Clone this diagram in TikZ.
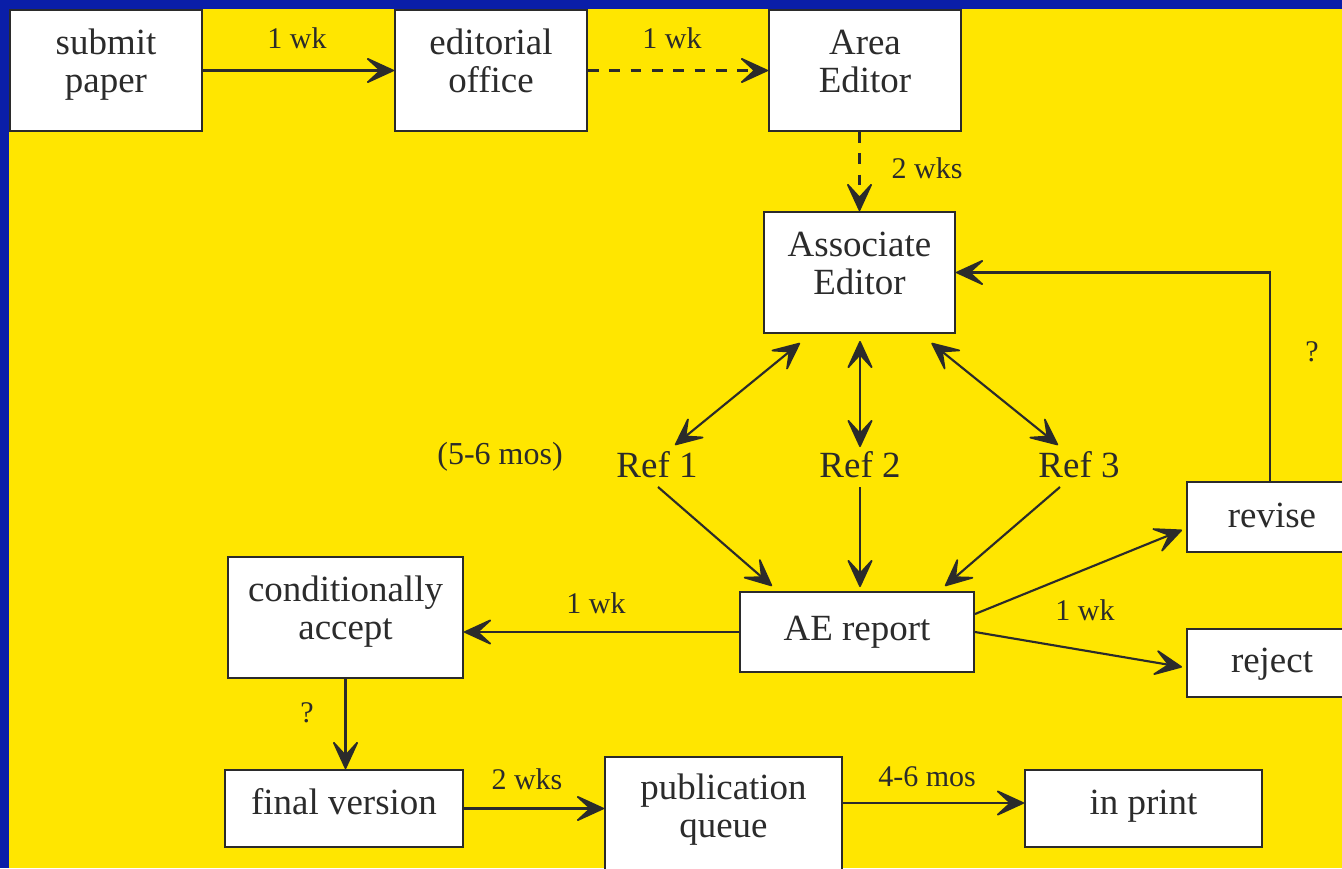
\documentclass[tikz,border=0pt]{standalone}
\usepackage{fontspec}
\setmainfont{Liberation Serif}
\usetikzlibrary{arrows.meta,calc}
\definecolor{bgyellow}{HTML}{FFE600}
\definecolor{bgblue}{HTML}{0A1EA8}
\definecolor{ink}{HTML}{2B2B2B}
\newdimen\pxu \pxu=0.75pt
\begin{document}
\begin{tikzpicture}[x=0.75pt,y=-0.75pt,
  >={Stealth[length=24pt,width=22pt,inset=12pt,line width=1.3pt,round]},
  box/.style={draw=ink, line width=1.5pt, fill=white, inner sep=0pt, align=center,
    font=\fontsize{27.7}{28.5}\selectfont, text=ink},
  one/.style={box, text height=18pt, text depth=9pt},
  two/.style={box, text height=41.5pt, text depth=8pt},
  reflab/.style={inner sep=2pt, font=\fontsize{27.7}{28.5}\selectfont, text=ink},
  lab/.style={font=\fontsize{22.5}{24}\selectfont, text=ink, inner sep=0pt},
  arr/.style={draw=ink, line width=1.6pt, ->},
  darr/.style={draw=ink, line width=1.6pt, <->},
  dsh/.style={dash pattern=on 8pt off 8pt}]
\useasboundingbox (0,0) rectangle (1342,868);
\fill[bgblue] (0,0) rectangle (1342,868);
\fill[bgyellow] (9,9) rectangle (1342,868);

\node[two, minimum width=192\pxu, minimum height=121\pxu] (sub) at (106,70.5) {submit\\paper};
\node[two, minimum width=192\pxu, minimum height=121\pxu] (edi) at (491,70.5) {editorial\\office};
\node[two, minimum width=192\pxu, minimum height=121\pxu] (area) at (865,70.5) {Area\\Editor};
\node[two, minimum width=191\pxu, minimum height=121\pxu] (assoc) at (859.5,272.5) {Associate\\Editor};
\node[two, minimum width=235\pxu, minimum height=121\pxu] (cond) at (345.5,617.5) {conditionally\\accept};
\node[one, text height=21pt, minimum width=234\pxu, minimum height=80\pxu] (ae) at (857,632) {AE report};
\node[one, minimum width=238\pxu, minimum height=77\pxu] (final) at (344,808.5) {final version};
\node[one, minimum width=237\pxu, minimum height=77\pxu] (inprint) at (1143.5,808.5) {in print};
\begin{scope}
\clip (0,0) rectangle (1342,868);
\node[one, text height=24pt, minimum width=170\pxu, minimum height=70\pxu] (revise) at (1272,517) {revise};
\node[one, text height=23pt, minimum width=170\pxu, minimum height=68\pxu] (reject) at (1272,663) {reject};
\node[box, text height=32pt, text depth=8pt, minimum width=237\pxu, minimum height=128\pxu] (pub) at (723.5,821) {publication\\queue};
\end{scope}

\node[reflab] (r1) at (657,465) {Ref 1};
\node[reflab] (r2) at (860,465) {Ref 2};
\node[reflab] (r3) at (1079,465) {Ref 3};
\node[lab, font=\fontsize{24}{26}\selectfont] (mos) at (500,457) {(5-6 mos)};

\draw[arr] (sub) -- (edi);
\draw[arr, dsh] (edi) -- (area);
\draw[arr, dsh] (area.south -| assoc.south) -- (assoc.north);

\draw[darr] ($(assoc.south)+(-59.5,9)$) -- ($(r1)+(18,-20)$);
\draw[darr] ($(assoc.south)+(0.5,7)$) -- ($(r2)+(0,-18)$);
\draw[darr] ($(assoc.south)+(72,9)$) -- ($(r3)+(-21,-20)$);

\draw[arr] ($(r1)+(1,22)$) -- ($(ae.north)+(-85,-5)$);
\draw[arr] ($(r2)+(0,22)$) -- ($(ae.north)+(3,-4)$);
\draw[arr] ($(r3)+(-19,22)$) -- ($(ae.north)+(88,-5)$);

\draw[arr] (ae.west) -- (ae.west -| cond.east);
\draw[arr] ($(ae.east)+(0,-18)$) -- ($(revise.west)+(-4,13)$);
\draw[arr] (ae.east) -- ($(reject.west)+(-4,4)$);
\draw[arr] ($(revise.north)+(-2,0)$) |- (assoc.east);
\draw[arr] (cond.south) -- (final.north -| cond.south);
\draw[arr] (final.east) -- (final.east -| pub.west);
\draw[arr] ($(pub.east)+(0,-18)$) -- ($(inprint.west)+(0,-5.5)$);

\node[lab] at (297,38) {1 wk};
\node[lab] at (672,38) {1 wk};
\node[lab] at (927,168) {2 wks};
\node[lab] at (1312,352) {?};
\node[lab] at (596,603) {1 wk};
\node[lab] at (1085,610) {1 wk};
\node[lab] at (307,713) {?};
\node[lab] at (527,779) {2 wks};
\node[lab] at (927,777) {4-6 mos};
\end{tikzpicture}
\end{document}
